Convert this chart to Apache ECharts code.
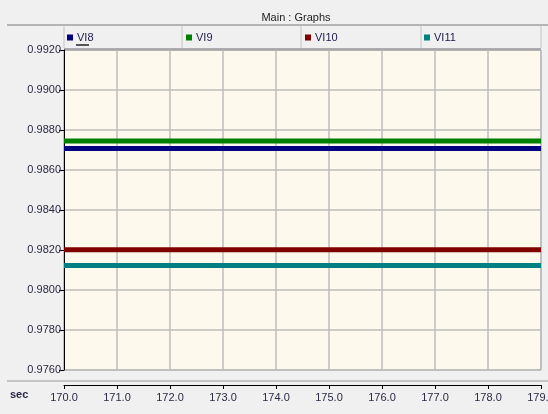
<!DOCTYPE html>
<html>
<head>
<meta charset="utf-8">
<script src="https://cdn.jsdelivr.net/npm/echarts@6/dist/echarts.min.js"></script>
<style>
  html, body { margin: 0; padding: 0; background: #f0f0f0; }
  #chart { width: 548px; height: 414px; }
</style>
</head>
<body>
<div id="chart"></div>
<script>
// time axis (sec)
const times = [170, 171, 172, 173, 174, 175, 176, 177, 178, 179]
// bus voltages
const vi8 = [0.98707, 0.98707, 0.98707, 0.98707, 0.98707, 0.98707, 0.98707, 0.98707, 0.98707, 0.98707]
const vi9 = [0.98745, 0.98745, 0.98745, 0.98745, 0.98745, 0.98745, 0.98745, 0.98745, 0.98745, 0.98745]
const vi10 = [0.98201, 0.98201, 0.98201, 0.98201, 0.98201, 0.98201, 0.98201, 0.98201, 0.98201, 0.98201]
const vi11 = [0.98123, 0.98123, 0.98123, 0.98123, 0.98123, 0.98123, 0.98123, 0.98123, 0.98123, 0.98123]
const names = ['VI8', 'VI9', 'VI10', 'VI11']
const colors = ['#000080', '#008000', '#800000', '#008080']

const font = '"Liberation Sans", Arial, sans-serif'
const seriesData = [vi8, vi9, vi10, vi11]

let chart = echarts.init(document.getElementById('chart'))

function legendAt(i, left) {
    return {
        data: [names[i]],
        left: left,
        top: 32,
        icon: 'rect',
        itemWidth: 6,
        itemHeight: 6,
        itemGap: 0,
        padding: 0,
        selectedMode: false,
        textStyle: { fontFamily: font, fontSize: 11, color: '#1a1a4a', padding: [0, 0, 0, -1] }
    }
}

chart.setOption({
    backgroundColor: '#f0f0f0',
    animation: false,
    color: colors,
    title: {
        text: 'Main : Graphs',
        left: 291,
        top: 7,
        textAlign: 'center',
        textStyle: { fontFamily: font, fontSize: 11, fontWeight: 'normal', color: '#222' }
    },
    legend: [legendAt(0, 67), legendAt(1, 186), legendAt(2, 305), legendAt(3, 424)],
    grid: {
        left: 64,
        right: 7,
        top: 50,
        bottom: 44,
        outerBoundsMode: 'none',
        containLabel: false,
        show: true,
        backgroundColor: '#fdf9ed',
        borderColor: '#9a9a9a',
        borderWidth: 1
    },
    xAxis: {
        type: 'value',
        min: 170,
        max: 179,
        interval: 1,
        offset: 15,
        axisLine: { show: true, lineStyle: { color: '#000', width: 1 } },
        axisTick: { show: true, length: 4, lineStyle: { color: '#000' } },
        axisLabel: {
            fontFamily: font, fontSize: 11, color: '#2a2a44', margin: 7,
            showMaxLabel: true,
            hideOverlap: false,
            formatter: v => v.toFixed(1)
        },
        splitLine: { show: true, lineStyle: { color: '#bcbcbc', width: 1.5 } }
    },
    yAxis: {
        type: 'value',
        min: 0.976,
        max: 0.992,
        interval: 0.002,
        axisLine: { show: true, lineStyle: { color: '#000', width: 1 } },
        axisTick: { show: true, length: 5, lineStyle: { color: '#000' } },
        axisLabel: {
            fontFamily: font, fontSize: 11, color: '#2a2a44', margin: 3,
            formatter: v => v.toFixed(4)
        },
        splitLine: { show: true, lineStyle: { color: '#bcbcbc', width: 1.5 } }
    },
    series: seriesData.map((d, i) => ({
        name: names[i],
        type: 'line',
        symbol: 'none',
        data: times.map((t, k) => [t, d[k]]),
        lineStyle: { width: 5, color: colors[i] },
        itemStyle: { color: colors[i] }
    })),
    graphic: [
        // title bar separator
        { type: 'line', shape: { x1: 7, y1: 25, x2: 548, y2: 25 }, style: { stroke: '#b4b4b4', lineWidth: 2 } },
        // legend cell dividers
        { type: 'line', shape: { x1: 64, y1: 26, x2: 64, y2: 48 }, style: { stroke: '#c4c4c4', lineWidth: 1 } },
        { type: 'line', shape: { x1: 182, y1: 26, x2: 182, y2: 48 }, style: { stroke: '#c4c4c4', lineWidth: 1 } },
        { type: 'line', shape: { x1: 301, y1: 26, x2: 301, y2: 48 }, style: { stroke: '#c4c4c4', lineWidth: 1 } },
        { type: 'line', shape: { x1: 421, y1: 26, x2: 421, y2: 48 }, style: { stroke: '#c4c4c4', lineWidth: 1 } },
        { type: 'line', shape: { x1: 541, y1: 26, x2: 541, y2: 48 }, style: { stroke: '#c4c4c4', lineWidth: 1 } },
        // plot top border
        { type: 'line', shape: { x1: 64, y1: 49.5, x2: 541, y2: 49.5 }, style: { stroke: '#6a6a6a', lineWidth: 2 } },
        // underline under active legend item
        { type: 'line', shape: { x1: 76, y1: 45, x2: 89, y2: 45 }, style: { stroke: '#222', lineWidth: 1.5 } },
        // separator above time axis
        { type: 'line', shape: { x1: 7, y1: 381, x2: 548, y2: 381 }, style: { stroke: '#c4c4c4', lineWidth: 2 } },
        { type: 'text', left: 10, top: 389, style: { text: 'sec', font: 'bold 11px ' + font, fill: '#2a2a44' } }
    ]
})
</script>
</body>
</html>
